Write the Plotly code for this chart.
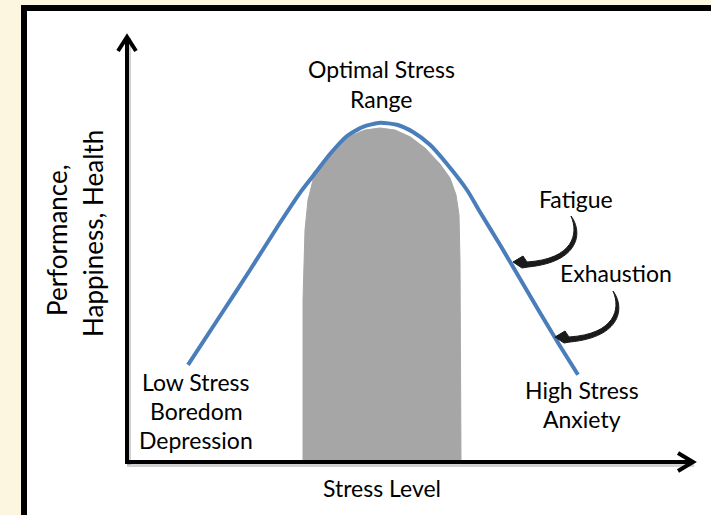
import plotly.graph_objects as go

# ---- data (stress level vs performance, arbitrary units) ----
curve_stress = [1.22, 1.86, 2.46, 3.06, 3.46, 3.72, 4.06, 4.40, 4.72, 5.06, 5.40,
                5.72, 6.06, 6.40, 6.80, 7.06, 7.46, 7.86, 8.26, 8.66, 9.02]
curve_perf = [2.43, 3.65, 4.80, 5.98, 6.73, 7.15, 7.70, 8.15, 8.38, 8.48, 8.43,
              8.25, 7.93, 7.45, 6.80, 6.25, 5.43, 4.58, 3.73, 2.90, 2.18]

optimal_stress = [3.52, 3.52, 3.56, 3.62, 3.72, 3.90, 4.16, 4.46, 4.76, 5.06, 5.36,
                  5.66, 5.96, 6.26, 6.46, 6.58, 6.64, 6.66, 6.68]
optimal_perf = [0.00, 4.05, 5.80, 6.55, 7.05, 7.48, 7.88, 8.15, 8.30, 8.35, 8.30,
                8.13, 7.85, 7.45, 7.10, 6.68, 6.18, 5.05, 0.00]

W, H = 711, 515
FONT = "Lato"
CREAM = "#FCF5E0"


def px(x, y):
    return x / W, 1 - y / H


def pt(x, y):
    a, b = px(x, y)
    return f"{a:.5f},{b:.5f}"


fig = go.Figure()

fig.add_trace(go.Scatter(
    x=optimal_stress, y=optimal_perf, mode="lines", fill="toself",
    fillcolor="#A6A6A6", line=dict(color="#A6A6A6", width=1),
    hoverinfo="skip", showlegend=False))

fig.add_trace(go.Scatter(
    x=curve_stress, y=curve_perf, mode="lines",
    line=dict(color="#4A7EBB", width=4, shape="spline", smoothing=0.6),
    hoverinfo="skip", showlegend=False))

shapes = []
# white panel with black border
shapes.append(dict(type="rect", xref="paper", yref="paper",
                   x0=px(24, 0)[0], x1=px(740, 0)[0], y0=px(0, 540)[1], y1=px(0, 8)[1],
                   fillcolor="white", line=dict(color="black", width=6), layer="below"))


def seg(x0, y0, x1, y1, color="black", width=4):
    a0, b0 = px(x0, y0)
    a1, b1 = px(x1, y1)
    return dict(type="line", xref="paper", yref="paper", x0=a0, y0=b0, x1=a1, y1=b1,
                line=dict(color=color, width=width))


def chevron(points, color="black", width=4):
    path = "M " + " L ".join(pt(x, y) for x, y in points)
    return dict(type="path", xref="paper", yref="paper", path=path,
                line=dict(color=color, width=width))


sh = "rgba(0,0,0,0.18)"
# shadows
shapes.append(seg(129, 38, 129, 465, sh, 4))
shapes.append(seg(127, 465, 694, 465, sh, 4))
# axes
shapes.append(seg(127, 37, 127, 462))
shapes.append(seg(125, 462, 693, 462))
shapes.append(chevron([(118, 51), (127, 37), (136, 51)]))
shapes.append(chevron([(678, 453), (693, 462), (678, 471)]))


def curved_arrow(dx, dy):
    def q(x, y):
        return pt(x + dx, y + dy)
    path = (f"M {q(571,216)} C {q(583,232)} {q(580,262)} {q(528,267)} "
            f"L {q(522,268)} L {q(513,262)} L {q(523,256)} L {q(527,262)} "
            f"C {q(573,259)} {q(579,234)} {q(571,216)} Z")
    return dict(type="path", xref="paper", yref="paper", path=path,
                fillcolor="#1a1a1a", line=dict(color="#1a1a1a", width=1))


shapes.append(curved_arrow(0, 0))
shapes.append(curved_arrow(42, 75))

annotations = []


def text(s, x, y, size=23, angle=0):
    a, b = px(x, y)
    annotations.append(dict(text=s, x=a, y=b, xref="paper", yref="paper",
                            showarrow=False, xanchor="center", yanchor="middle",
                            textangle=angle,
                            font=dict(family=FONT, size=size, color="black")))


text("Optimal Stress", 381, 69)
text("Range", 381, 99)
text("Fatigue", 576, 199)
text("Exhaustion", 616, 273)
text("Low Stress", 196, 382)
text("Boredom", 196, 411)
text("Depression", 196, 440)
text("High Stress", 582, 390)
text("Anxiety", 582, 419)
text("Stress Level", 382, 488)
text("Performance,", 57, 240, size=26, angle=-90)
text("Happiness, Health", 93, 234, size=26, angle=-90)

fig.update_layout(
    width=W, height=H, margin=dict(l=0, r=0, t=0, b=0),
    paper_bgcolor=CREAM, plot_bgcolor="rgba(0,0,0,0)",
    xaxis=dict(range=[-127 / 50, (W - 127) / 50], visible=False, fixedrange=True),
    yaxis=dict(range=[(462 - H) / 40, 462 / 40], visible=False, fixedrange=True),
    shapes=shapes, annotations=annotations, showlegend=False,
)

fig.write_html(
    "out.html",
    config={"displayModeBar": False},
    post_script="document.body.style.margin='0';document.body.style.overflow='hidden';",
)
